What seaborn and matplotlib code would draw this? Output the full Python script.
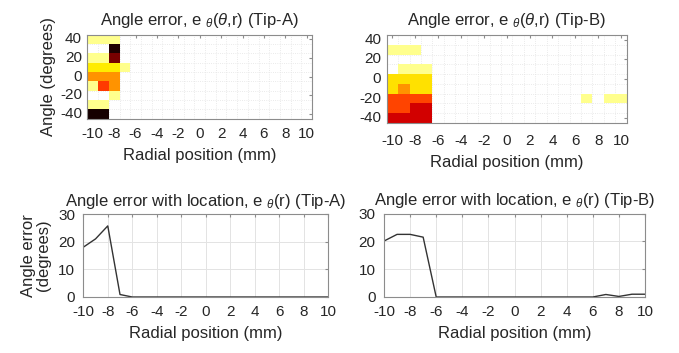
import matplotlib
matplotlib.use("Agg")
import matplotlib.pyplot as plt
import seaborn as sns
import numpy as np
import pandas as pd

# ---------------- data ----------------
radial = [-10, -9, -8, -7, -6, -5, -4, -3, -2, -1, 0, 1, 2, 3, 4, 5, 6, 7, 8, 9, 10]
angles = [40, 30, 20, 10, 0, -10, -20, -30, -40]
xtick_vals = [-10, -8, -6, -4, -2, 0, 2, 4, 6, 8, 10]
ytick_vals = [40, 20, 0, -20, -40]

# angle error (degrees) per (angle row, radial column), Tip-A
heat_a = [
    [7, 7, 7, 0, 0, 0, 0, 0, 0, 0, 0, 0, 0, 0, 0, 0, 0, 0, 0, 0, 0],
    [0, 0, 58, 0, 0, 0, 0, 0, 0, 0, 0, 0, 0, 0, 0, 0, 0, 0, 0, 0, 0],
    [7, 7, 50, 0, 0, 0, 0, 0, 0, 0, 0, 0, 0, 0, 0, 0, 0, 0, 0, 0, 0],
    [17, 17, 17, 7, 0, 0, 0, 0, 0, 0, 0, 0, 0, 0, 0, 0, 0, 0, 0, 0, 0],
    [25, 25, 25, 0, 0, 0, 0, 0, 0, 0, 0, 0, 0, 0, 0, 0, 0, 0, 0, 0, 0],
    [7, 33, 25, 0, 0, 0, 0, 0, 0, 0, 0, 0, 0, 0, 0, 0, 0, 0, 0, 0, 0],
    [0, 0, 7, 0, 0, 0, 0, 0, 0, 0, 0, 0, 0, 0, 0, 0, 0, 0, 0, 0, 0],
    [7, 7, 0, 0, 0, 0, 0, 0, 0, 0, 0, 0, 0, 0, 0, 0, 0, 0, 0, 0, 0],
    [59, 59, 0, 0, 0, 0, 0, 0, 0, 0, 0, 0, 0, 0, 0, 0, 0, 0, 0, 0, 0],
]

# Tip-B
heat_b = [
    [0, 0, 0, 0, 0, 0, 0, 0, 0, 0, 0, 0, 0, 0, 0, 0, 0, 0, 0, 0, 0],
    [7, 7, 7, 0, 0, 0, 0, 0, 0, 0, 0, 0, 0, 0, 0, 0, 0, 0, 0, 0, 0],
    [0, 0, 0, 0, 0, 0, 0, 0, 0, 0, 0, 0, 0, 0, 0, 0, 0, 0, 0, 0, 0],
    [0, 7, 7, 7, 0, 0, 0, 0, 0, 0, 0, 0, 0, 0, 0, 0, 0, 0, 0, 0, 0],
    [18, 18, 18, 18, 0, 0, 0, 0, 0, 0, 0, 0, 0, 0, 0, 0, 0, 0, 0, 0, 0],
    [18, 25, 18, 18, 0, 0, 0, 0, 0, 0, 0, 0, 0, 0, 0, 0, 0, 0, 0, 0, 0],
    [32, 32, 32, 32, 0, 0, 0, 0, 0, 0, 0, 0, 0, 0, 0, 0, 0, 7, 0, 7, 7],
    [32, 32, 42, 42, 0, 0, 0, 0, 0, 0, 0, 0, 0, 0, 0, 0, 0, 0, 0, 0, 0],
    [42, 42, 42, 42, 0, 0, 0, 0, 0, 0, 0, 0, 0, 0, 0, 0, 0, 0, 0, 0, 0],
]

# mean angle error vs radial position
line_a = [18.0, 21.0, 25.7, 0.9, 0, 0, 0, 0, 0, 0, 0, 0, 0, 0, 0, 0, 0, 0, 0, 0, 0]
line_b = [20.1, 22.5, 22.5, 21.5, 0, 0, 0, 0, 0, 0, 0, 0, 0, 0, 0, 0, 0, 0.9, 0.2, 1.0, 1.0]

titles_heat = [r"Angle error, e $_{\theta}$($\theta$,r) (Tip-A)",
               r"Angle error, e $_{\theta}$($\theta$,r) (Tip-B)"]
titles_line = [r"Angle error with location, e $_{\theta}$(r) (Tip-A)",
               r"Angle error with location, e $_{\theta}$(r) (Tip-B)"]
xlabel = "Radial position (mm)"

# ---------------- style ----------------
sns.set_style("white")
plt.rcParams["font.family"] = ["Liberation Sans", "DejaVu Sans"]
plt.rcParams["mathtext.fontset"] = "custom"
plt.rcParams["mathtext.rm"] = "Liberation Sans"
plt.rcParams["mathtext.it"] = "Liberation Sans:italic"
plt.rcParams["text.color"] = "#262626"
plt.rcParams["axes.labelcolor"] = "#262626"
plt.rcParams["xtick.color"] = "#262626"
plt.rcParams["ytick.color"] = "#262626"

W, H = 679, 353
fig = plt.figure(figsize=(W / 100, H / 100), dpi=100)


def box(l, r, t, b):
    return [l / W, (H - b) / H, (r - l) / W, (b - t) / H]


ax_ha = fig.add_axes(box(87.5, 312, 34.7, 118.7))
ax_hb = fig.add_axes(box(386.7, 626.7, 35, 123))
ax_la = fig.add_axes(box(83.3, 328, 214, 297))
ax_lb = fig.add_axes(box(384, 645, 213.5, 297))

FS_TICK = 11
FS_LAB = 12
FS_TITLE = 12
GRIDC = "#e3e3e3"
SPINEC = "#8c8c8c"


def style_spines(ax):
    for s in ax.spines.values():
        s.set_visible(True)
        s.set_color(SPINEC)
        s.set_linewidth(0.8)


for ax, mat, title, xpad in [(ax_ha, heat_a, titles_heat[0], 6),
                             (ax_hb, heat_b, titles_heat[1], 8)]:
    df = pd.DataFrame(mat, index=angles, columns=radial)
    mask = df == 0
    sns.heatmap(df, ax=ax, cmap="hot_r", vmin=0, vmax=60, cbar=False, mask=mask)
    ax.set_facecolor("white")
    ax.set_axisbelow(True)
    ax.set_xticks([radial.index(v) + 0.5 for v in xtick_vals])
    ax.set_xticklabels([str(v) for v in xtick_vals], rotation=0, fontsize=FS_TICK)
    ax.set_yticks([angles.index(v) + 0.5 for v in ytick_vals])
    ax.set_yticklabels([str(v) for v in ytick_vals], rotation=0, fontsize=FS_TICK)
    ax.set_xticks(np.arange(0, len(radial) + 1), minor=True)
    ax.set_yticks(np.arange(0, len(angles) + 1), minor=True)
    ax.grid(which="minor", color=GRIDC, linewidth=0.6, linestyle=":")
    ax.grid(which="major", visible=False)
    ax.tick_params(which="minor", length=0)
    ax.tick_params(which="major", direction="in", length=2, color=SPINEC,
                   top=True, right=True)
    ax.tick_params(axis="x", which="major", pad=xpad)
    ax.tick_params(axis="y", which="major", pad=4)
    ax.set_xlim(0, len(radial))
    ax.set_ylim(len(angles), 0)
    ax.set_xlabel(xlabel, fontsize=FS_LAB, labelpad=5)
    ax.set_ylabel("")
    ax.set_title(title, fontsize=FS_TITLE, pad=7)
    style_spines(ax)

ax_ha.set_ylabel("Angle (degrees)", fontsize=FS_LAB, labelpad=3)

for ax, vals, title in [(ax_la, line_a, titles_line[0]), (ax_lb, line_b, titles_line[1])]:
    df = pd.DataFrame({"r": radial, "e": vals})
    sns.lineplot(data=df, x="r", y="e", ax=ax, color="#333333", linewidth=1.0)
    ax.set_xlim(-10, 10)
    ax.set_ylim(0, 30)
    ax.set_xticks(xtick_vals)
    ax.set_xticklabels([str(v) for v in xtick_vals], fontsize=FS_TICK)
    ax.set_yticks([0, 10, 20, 30])
    ax.set_yticklabels(["0", "10", "20", "30"], fontsize=FS_TICK)
    ax.grid(True, color=GRIDC, linewidth=0.7)
    ax.tick_params(direction="in", length=2, color=SPINEC, top=True, right=True)
    ax.tick_params(axis="x", pad=6)
    ax.tick_params(axis="y", pad=6)
    ax.set_xlabel(xlabel, fontsize=FS_LAB, labelpad=5)
    ax.set_ylabel("")
    ax.set_title(title, fontsize=FS_TITLE, pad=6)
    style_spines(ax)

ax_la.set_ylabel("Angle error\n(degrees)", fontsize=FS_LAB, labelpad=5, linespacing=1.0)

fig.savefig("out.png", dpi=100)
